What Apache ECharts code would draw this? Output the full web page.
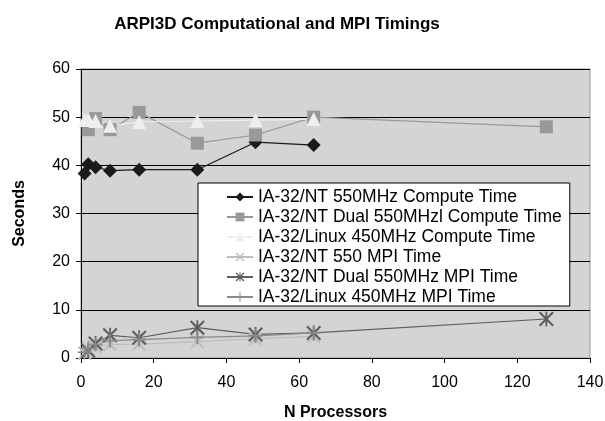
<!DOCTYPE html>
<html><head><meta charset="utf-8">
<script src="https://cdn.jsdelivr.net/npm/echarts@6/dist/echarts.min.js"></script>
<style>html,body{margin:0;padding:0;background:#fff}#c{width:605px;height:421px}</style>
</head><body><div id="c"></div>
<script>
const titleText = 'ARPI3D Computational and MPI Timings';
const xName = 'N Processors';
const yName = 'Seconds';
const seriesNames = ['IA-32/NT 550MHz Compute Time','IA-32/NT Dual 550MHzl Compute Time','IA-32/Linux 450MHz Compute Time','IA-32/NT 550 MPI Time','IA-32/NT Dual 550MHz MPI Time','IA-32/Linux 450MHz MPI Time'];
const ntComputeX = [1,2,4,8,16,32,48,64];
const ntComputeY = [38.3,40.2,39.6,38.9,39.1,39.1,44.8,44.2];
const dualComputeX = [2,4,8,16,32,48,64,128];
const dualComputeY = [47.4,49.7,47.4,51.0,44.6,46.3,50.0,48.0];
const linuxComputeX = [1,2,4,8,16,32,48,64];
const linuxComputeY = [49.4,49.5,49.2,48.2,49.0,49.2,49.4,49.6];
const ntMpiX = [1,2,4,8,16,32,48,64];
const ntMpiY = [1.0,1.8,2.3,2.8,2.9,3.4,4.0,4.5];
const dualMpiX = [2,4,8,16,32,48,64,128];
const dualMpiY = [1.5,3.0,4.7,4.2,6.3,4.9,5.2,8.1];
const linuxMpiX = [1,2,4,8,16,32,48,64];
const linuxMpiY = [1.2,2.0,2.8,3.6,3.8,4.3,4.6,5.2];

const zip = (xs, ys) => xs.map((x, i) => [x, ys[i]]);
const xSym = 'path://M0,1L1,0L5,4L9,0L10,1L6,5L10,9L9,10L5,6L1,10L0,9L4,5Z';
const starSym = 'path://M0,1L1,0L5,4L9,0L10,1L6,5L10,9L9,10L5,6L1,10L0,9L4,5Z M4.4,0L5.6,0L5.6,10L4.4,10Z';
const plusSym = 'path://M4.4,0L5.6,0L5.6,4.4L10,4.4L10,5.6L5.6,5.6L5.6,10L4.4,10L4.4,5.6L0,5.6L0,4.4L4.4,4.4Z';
const font = '"Liberation Sans", Arial, sans-serif';

function mk(name, data, sym, size, color, lineColor) {
  return {name, type:'line', data, symbol: sym, symbolSize: size,
    itemStyle:{color: color}, lineStyle:{color: lineColor || color, width:1.2}, animation:false, z: 3};
}

const chart = echarts.init(document.getElementById('c'));
chart.setOption({
  animation:false,
  backgroundColor:'#fff',
  title:{text:titleText, left:272, textAlign:'center', top:11,
    textStyle:{fontFamily:font, fontSize:17, fontWeight:'bold', color:'#000'}},
  grid:{left:81, top:69, right:15, bottom:63, outerBoundsMode:'none', containLabel:false,
    show:true, backgroundColor:'#d4d4d4', borderColor:'#999', borderWidth:1},
  xAxis:{type:'value', min:0, max:140, interval:20, name:xName, nameLocation:'middle', nameGap:47,
    nameTextStyle:{fontFamily:font, fontSize:16, fontWeight:'bold', color:'#000'},
    axisLine:{lineStyle:{color:'#000', width:1}}, axisTick:{show:true, length:5, lineStyle:{color:'#000'}},
    axisLabel:{fontFamily:font, fontSize:16, color:'#000', margin:17}, splitLine:{show:false}},
  yAxis:{type:'value', min:0, max:60, interval:10, name:yName, nameLocation:'middle', nameGap:53,
    nameTextStyle:{fontFamily:font, fontSize:16, fontWeight:'bold', color:'#000'},
    axisLine:{show:true, lineStyle:{color:'#000', width:1}}, axisTick:{show:true, length:5, lineStyle:{color:'#000'}},
    axisLabel:{fontFamily:font, fontSize:16, color:'#000', margin:11},
    splitLine:{show:true, lineStyle:{color:'#000', width:1}}},
  legend:{orient:'vertical', left:198, top:183, width:374, padding:[5,8,0,28], itemGap:2,
    itemWidth:26, itemHeight:11, backgroundColor:'#fff', borderColor:'#000', borderWidth:1,
    textStyle:{fontFamily:font, fontSize:17.5, lineHeight:17, color:'#000'}, data:seriesNames},
  series:[
    mk(seriesNames[0], zip(ntComputeX, ntComputeY), 'diamond', 14, '#1a1a1a'),
    mk(seriesNames[1], zip(dualComputeX, dualComputeY), 'rect', 13, '#999999'),
    mk(seriesNames[2], zip(linuxComputeX, linuxComputeY), 'triangle', 14, '#eeeeee'),
    mk(seriesNames[3], zip(ntMpiX, ntMpiY), xSym, 14, '#bdbdbd'),
    mk(seriesNames[4], zip(dualMpiX, dualMpiY), starSym, 15, '#5e5e5e'),
    mk(seriesNames[5], zip(linuxMpiX, linuxMpiY), plusSym, 14, '#8a8a8a')
  ]
});
</script></body></html>
